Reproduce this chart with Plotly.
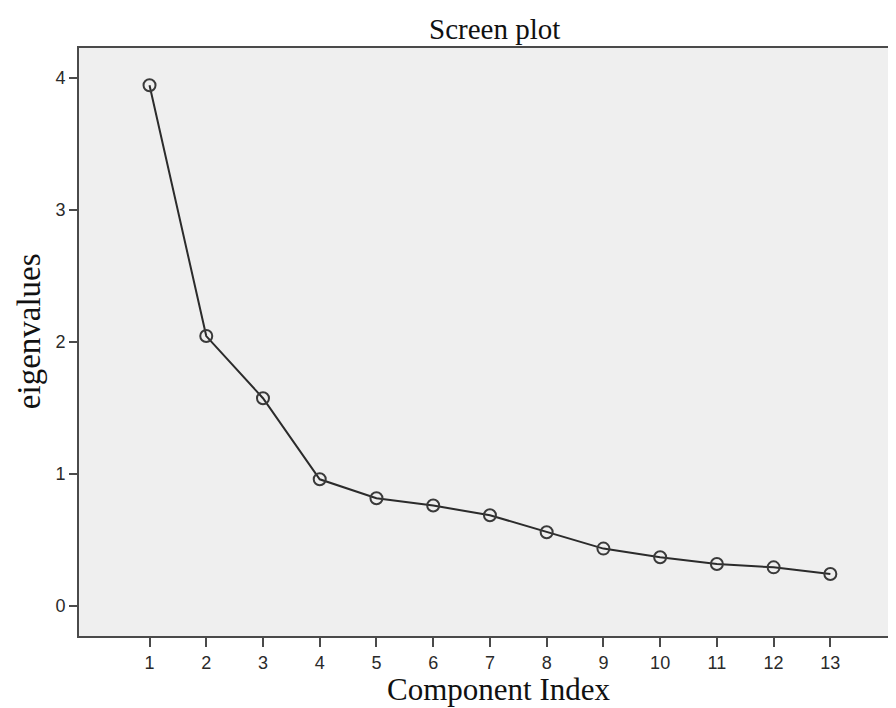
import plotly.graph_objects as go

components = [1, 2, 3, 4, 5, 6, 7, 8, 9, 10, 11, 12, 13]
eigenvalues = [3.945, 2.045, 1.574, 0.960, 0.817, 0.761, 0.688, 0.559, 0.435, 0.369, 0.318, 0.293, 0.243]
x_ticks = list(range(1, 14))
y_ticks = [0, 1, 2, 3, 4]

fig = go.Figure()
fig.add_trace(go.Scatter(
    x=components, y=eigenvalues, mode="lines+markers",
    line=dict(color="#2b2b2b", width=2),
    marker=dict(symbol="circle-open", size=12, color="#3a3a3a", line=dict(width=2)),
    showlegend=False,
))

fig.update_layout(
    width=896, height=708,
    margin=dict(l=71, r=3, t=40, b=80),
    paper_bgcolor="white",
    plot_bgcolor="#efefef",
    font=dict(family="Liberation Sans", color="#2a2a2a"),
    xaxis=dict(range=[-0.243, 14.21], tickvals=x_ticks, ticktext=[str(v) for v in x_ticks],
               showgrid=False, zeroline=False, showline=True, mirror=True,
               linecolor="#4a4a4a", linewidth=2, ticks="outside", ticklen=9,
               tickwidth=2, tickcolor="#4a4a4a", tickfont=dict(size=18, color="#2a2a2a")),
    yaxis=dict(range=[-0.227, 4.227], tickvals=y_ticks, ticktext=[str(v) for v in y_ticks],
               showgrid=False, zeroline=False, showline=True, mirror=True,
               linecolor="#4a4a4a", linewidth=2, ticks="outside", ticklen=8,
               tickwidth=2, tickcolor="#4a4a4a", tickfont=dict(size=18, color="#2a2a2a")),
    annotations=[
        dict(text="Screen plot", xref="paper", yref="paper", x=(488-71)/822, y=1 + (40-3)/588,
             xanchor="center", yanchor="top", showarrow=False,
             font=dict(family="Liberation Serif", size=29, color="#111")),
        dict(text="Component Index", xref="paper", yref="paper", x=(492-71)/822, y=-(701-628)/588,
             xanchor="center", yanchor="bottom", showarrow=False,
             font=dict(family="Liberation Serif", size=31, color="#111")),
        dict(text="eigenvalues", xref="paper", yref="paper", x=-(71-1)/822, y=(628-323)/588,
             xanchor="left", yanchor="middle", showarrow=False, textangle=-90,
             font=dict(family="Liberation Serif", size=33, color="#111")),
    ],
)

fig.write_html("out.html")
